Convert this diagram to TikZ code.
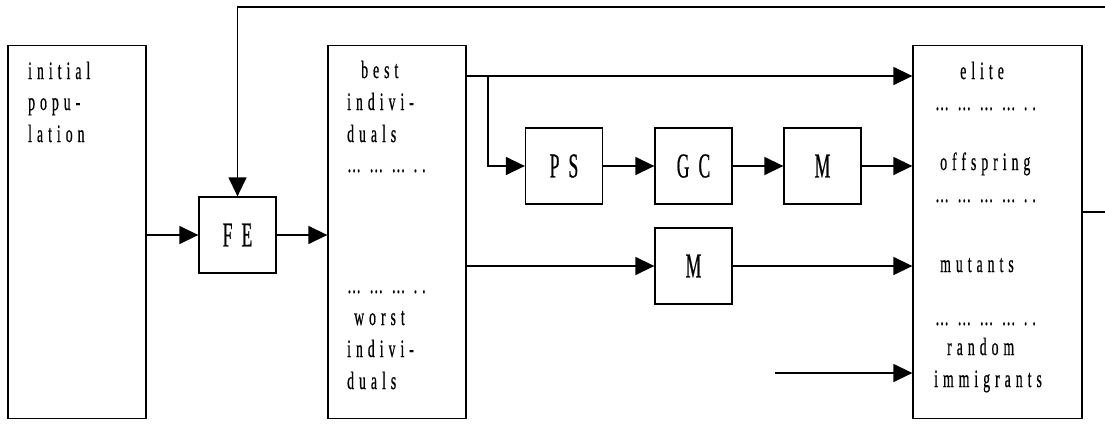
\documentclass[tikz,border=0pt]{standalone}
\usepackage{fontspec}
\usetikzlibrary{arrows.meta}
\newfontfamily\df[FakeStretch=0.55,LetterSpace=20,FakeBold=0.6]{Liberation Serif}
\newfontfamily\dfb[FakeStretch=0.5,LetterSpace=26,FakeBold=0.5]{Liberation Serif}
\begin{document}
\begin{tikzpicture}[x=1pt,y=-1pt,
  every node/.style={font=\df\fontsize{25}{28}\selectfont, inner sep=0pt},
  big/.style={draw, line width=1.3pt, minimum width=138pt, minimum height=373pt},
  small/.style={draw, line width=1.3pt, minimum width=77pt, minimum height=76pt, font=\dfb\fontsize{35}{36}\selectfont},
  lbl/.style={anchor=base west},
  arr/.style={line width=1.4pt, -{Triangle[length=19pt,width=18pt]}}]
\useasboundingbox (0,0) rectangle (1105,426);
% main boxes
\node[big] (pop) at (77,232) {};
\node[big] (sel) at (397,232) {};
\node[big, minimum width=169pt] (new) at (997.5,232) {};
\node[small] (FE) at (237.5,235) {FE};
\node[small] (PS) at (564,166) {PS};
\node[small] (GC) at (693.5,166) {GC};
\node[small] (M1) at (822.5,166) {M};
\node[small] (M2) at (693.5,266) {M};
% texts
\node[lbl] (t1) at (28,79) {initial};
\node[lbl] (t2) at (28,110) {popu-};
\node[lbl] (t3) at (28,142) {lation};
\node[lbl] (b1) at (361,78) {best};
\node[lbl] (b2) at (347,110) {indivi-};
\node[lbl] (b3) at (347,142) {duals};
\node[lbl] (b4) at (347,172) {… … … ..};
\node[lbl] (w1) at (347,293) {… … … ..};
\node[lbl] (w2) at (354,325) {worst};
\node[lbl] (w3) at (347,357) {indivi-};
\node[lbl] (w4) at (347,389) {duals};
\node[lbl] (n1) at (960,79) {elite};
\node[lbl] (n2) at (935,110) {… … … … ..};
\node[lbl] (n3) at (940,170) {offspring};
\node[lbl] (n4) at (935,202) {… … … … ..};
\node[lbl] (n5) at (940,272) {mutants};
\node[lbl] (n6) at (935,325) {… … … … ..};
\node[lbl] (n7) at (947,355) {random};
\node[lbl] (n8) at (934,387) {immigrants};
% coordinates
\coordinate (fbA) at (1106,212);
\coordinate (fbB) at (1106,7);
\coordinate (fbC) at (237.5,7);
\coordinate (br) at (488,76);
\coordinate (br2) at (488,166);
\coordinate (imm) at (775,373);
% connectors
\draw[arr] (pop.east |- FE) -- (FE.west);
\draw[arr] (FE.east) -- (sel.west |- FE);
\draw[arr] (new.east |- fbA) -- (fbA) -- (fbB) -- (fbC) -- (FE.north);
\draw[arr] (sel.east |- br) -- (new.west |- br);
\draw[arr] (br) -- (br2) -- (PS.west);
\draw[arr] (PS) -- (GC);
\draw[arr] (GC) -- (M1);
\draw[arr] (M1.east) -- (new.west |- M1);
\draw[arr] (sel.east |- M2) -- (M2.west);
\draw[arr] (M2.east) -- (new.west |- M2);
\draw[arr] (imm) -- (new.west |- imm);
\end{tikzpicture}
\end{document}
